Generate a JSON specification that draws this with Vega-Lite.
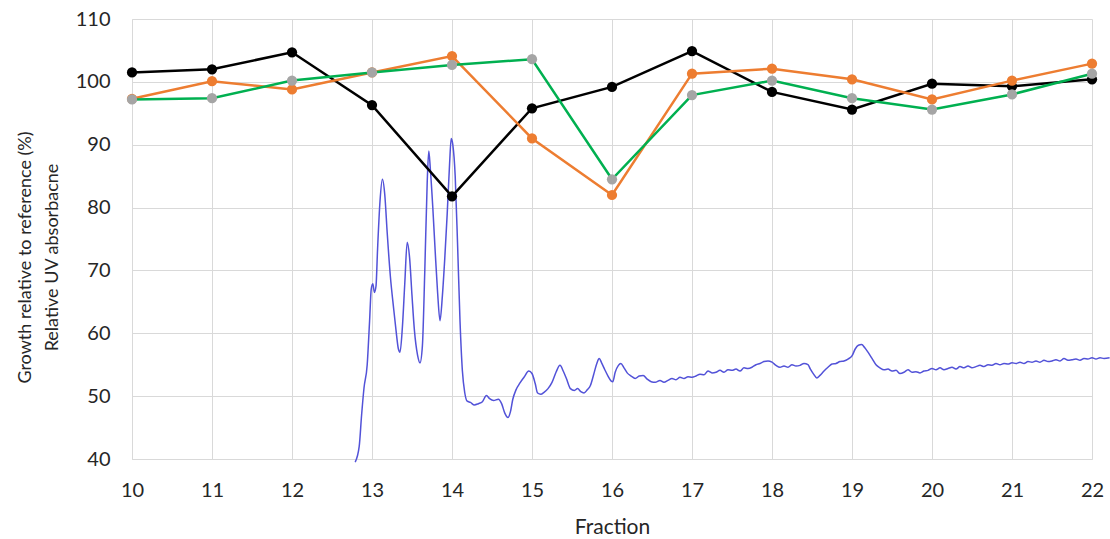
{
  "$schema": "https://vega.github.io/schema/vega-lite/v6.json",
  "width": 960,
  "height": 440,
  "autosize": {"type": "none"},
  "padding": {"left": 132, "top": 19, "right": 18, "bottom": 80},
  "background": "white",
  "config": {
    "view": {"stroke": null},
    "font": "Lato",
    "axis": {
      "gridColor": "#d9d9d9",
      "domainColor": "#d9d9d9",
      "ticks": false,
      "labelFont": "Lato",
      "labelFontSize": 20,
      "labelColor": "#262626",
      "labelFlush": false,
      "titleFont": "Lato",
      "titleFontSize": 18,
      "titleFontWeight": "normal",
      "titleColor": "#262626"
    }
  },
  "datasets": {
    "uv": [
      {"f":12.79,"a":39.5},{"f":12.84,"a":42},{"f":12.87,"a":47},{"f":12.9,"a":51.3},{"f":12.94,"a":55},{"f":12.97,"a":62},{"f":12.99,"a":67},{"f":13.01,"a":67.9},{"f":13.03,"a":66.5},{"f":13.05,"a":67.5},{"f":13.07,"a":73.5},{"f":13.1,"a":81},{"f":13.13,"a":84.5},{"f":13.16,"a":82},{"f":13.19,"a":76},{"f":13.23,"a":69},{"f":13.27,"a":64},{"f":13.3,"a":60.5},{"f":13.33,"a":57.5},{"f":13.35,"a":57},{"f":13.38,"a":61},{"f":13.41,"a":68},{"f":13.44,"a":74.5},{"f":13.47,"a":72},{"f":13.5,"a":66},{"f":13.53,"a":60.5},{"f":13.57,"a":56.5},{"f":13.6,"a":55.3},{"f":13.63,"a":58},{"f":13.66,"a":70},{"f":13.69,"a":84},{"f":13.71,"a":89},{"f":13.73,"a":86},{"f":13.76,"a":80},{"f":13.79,"a":73},{"f":13.82,"a":66.5},{"f":13.85,"a":62},{"f":13.88,"a":66},{"f":13.91,"a":72},{"f":13.94,"a":79},{"f":13.97,"a":87},{"f":13.99,"a":91},{"f":14.01,"a":90},{"f":14.04,"a":85},{"f":14.07,"a":74},{"f":14.1,"a":62},{"f":14.13,"a":54},{"f":14.16,"a":50.5},{"f":14.19,"a":49.2},{"f":14.23,"a":49},{"f":14.28,"a":48.6},{"f":14.33,"a":48.8},{"f":14.38,"a":49.1},{"f":14.43,"a":50.1},{"f":14.47,"a":49.6},{"f":14.52,"a":49.3},{"f":14.58,"a":49.5},{"f":14.62,"a":48.8},{"f":14.66,"a":47.3},{"f":14.7,"a":46.6},{"f":14.73,"a":47.5},{"f":14.76,"a":49.5},{"f":14.8,"a":51},{"f":14.85,"a":52.1},{"f":14.9,"a":53},{"f":14.96,"a":54},{"f":15.0,"a":53.6},{"f":15.04,"a":52},{"f":15.07,"a":50.5},{"f":15.11,"a":50.3},{"f":15.15,"a":50.6},{"f":15.2,"a":51.2},{"f":15.25,"a":52.2},{"f":15.3,"a":53.8},{"f":15.35,"a":54.9},{"f":15.39,"a":54},{"f":15.43,"a":52.8},{"f":15.48,"a":51.2},{"f":15.53,"a":50.9},{"f":15.57,"a":51.2},{"f":15.61,"a":50.7},{"f":15.65,"a":50.5},{"f":15.69,"a":51},{"f":15.73,"a":51.7},{"f":15.77,"a":53.4},{"f":15.81,"a":55.2},{"f":15.84,"a":56},{"f":15.87,"a":55.3},{"f":15.91,"a":54.2},{"f":15.95,"a":53.2},{"f":15.99,"a":52.4},{"f":16.01,"a":52.3},{"f":16.04,"a":53.8},{"f":16.08,"a":54.9},{"f":16.11,"a":55.2},{"f":16.15,"a":54.5},{"f":16.19,"a":53.7},{"f":16.24,"a":53.2},{"f":16.29,"a":52.8},{"f":16.34,"a":53.2},{"f":16.39,"a":53.3},{"f":16.44,"a":52.7},{"f":16.49,"a":52.3},{"f":16.54,"a":52.2},{"f":16.6,"a":52.5},{"f":16.65,"a":52.2},{"f":16.7,"a":52.5},{"f":16.75,"a":52.8},{"f":16.8,"a":52.6},{"f":16.85,"a":53},{"f":16.9,"a":52.8},{"f":16.95,"a":53.1},{"f":17.0,"a":53},{"f":17.05,"a":53.2},{"f":17.1,"a":53.5},{"f":17.15,"a":53.4},{"f":17.2,"a":54},{"f":17.25,"a":53.7},{"f":17.3,"a":53.8},{"f":17.35,"a":54.1},{"f":17.4,"a":53.8},{"f":17.45,"a":54.2},{"f":17.5,"a":54.1},{"f":17.55,"a":54.3},{"f":17.6,"a":54},{"f":17.65,"a":54.5},{"f":17.7,"a":54.4},{"f":17.75,"a":54.6},{"f":17.8,"a":55},{"f":17.85,"a":55.2},{"f":17.9,"a":55.5},{"f":17.95,"a":55.6},{"f":18.0,"a":55.4},{"f":18.05,"a":54.9},{"f":18.1,"a":54.6},{"f":18.15,"a":54.8},{"f":18.2,"a":54.6},{"f":18.25,"a":55},{"f":18.3,"a":54.8},{"f":18.35,"a":54.9},{"f":18.4,"a":55.2},{"f":18.45,"a":55},{"f":18.48,"a":54.3},{"f":18.52,"a":53.5},{"f":18.56,"a":52.9},{"f":18.6,"a":53.3},{"f":18.65,"a":54},{"f":18.7,"a":54.6},{"f":18.75,"a":55.1},{"f":18.8,"a":55.2},{"f":18.85,"a":55.5},{"f":18.9,"a":55.6},{"f":18.95,"a":55.9},{"f":19.0,"a":56.4},{"f":19.04,"a":57.5},{"f":19.08,"a":58.1},{"f":19.12,"a":58.2},{"f":19.16,"a":57.7},{"f":19.2,"a":57},{"f":19.25,"a":56},{"f":19.3,"a":55},{"f":19.35,"a":54.5},{"f":19.4,"a":54.2},{"f":19.45,"a":54.3},{"f":19.5,"a":54},{"f":19.55,"a":54.1},{"f":19.6,"a":53.6},{"f":19.65,"a":53.8},{"f":19.7,"a":54.2},{"f":19.75,"a":53.8},{"f":19.8,"a":53.9},{"f":19.85,"a":53.7},{"f":19.9,"a":54},{"f":19.95,"a":54.1},{"f":20.0,"a":54.4},{"f":20.05,"a":54.2},{"f":20.1,"a":54.5},{"f":20.15,"a":54.2},{"f":20.2,"a":54.4},{"f":20.25,"a":54.6},{"f":20.3,"a":54.3},{"f":20.35,"a":54.7},{"f":20.4,"a":54.5},{"f":20.45,"a":54.8},{"f":20.5,"a":54.5},{"f":20.55,"a":54.7},{"f":20.6,"a":54.9},{"f":20.65,"a":54.7},{"f":20.7,"a":55},{"f":20.75,"a":54.9},{"f":20.8,"a":55.2},{"f":20.85,"a":55},{"f":20.9,"a":55.2},{"f":20.95,"a":55.1},{"f":21.0,"a":55.3},{"f":21.05,"a":55.2},{"f":21.1,"a":55.4},{"f":21.15,"a":55.2},{"f":21.2,"a":55.5},{"f":21.25,"a":55.4},{"f":21.3,"a":55.6},{"f":21.35,"a":55.4},{"f":21.4,"a":55.7},{"f":21.45,"a":55.5},{"f":21.5,"a":55.6},{"f":21.55,"a":55.8},{"f":21.6,"a":55.6},{"f":21.65,"a":56},{"f":21.7,"a":55.7},{"f":21.75,"a":55.8},{"f":21.8,"a":55.9},{"f":21.85,"a":55.7},{"f":21.9,"a":56},{"f":21.95,"a":55.9},{"f":22.0,"a":56.1},{"f":22.05,"a":55.9},{"f":22.1,"a":56.1},{"f":22.15,"a":56},{"f":22.22,"a":56.1}
    ],
    "growth": [
      {"f":10,"s":"A","v":101.5},{"f":11,"s":"A","v":102.0},{"f":12,"s":"A","v":104.7},{"f":13,"s":"A","v":96.3},{"f":14,"s":"A","v":81.8},{"f":15,"s":"A","v":95.8},{"f":16,"s":"A","v":99.2},{"f":17,"s":"A","v":104.9},{"f":18,"s":"A","v":98.4},{"f":19,"s":"A","v":95.6},{"f":20,"s":"A","v":99.7},{"f":21,"s":"A","v":99.3},{"f":22,"s":"A","v":100.4},
      {"f":10,"s":"B","v":97.3},{"f":11,"s":"B","v":100.1},{"f":12,"s":"B","v":98.8},{"f":13,"s":"B","v":101.5},{"f":14,"s":"B","v":104.1},{"f":15,"s":"B","v":91.0},{"f":16,"s":"B","v":82.0},{"f":17,"s":"B","v":101.3},{"f":18,"s":"B","v":102.1},{"f":19,"s":"B","v":100.4},{"f":20,"s":"B","v":97.2},{"f":21,"s":"B","v":100.2},{"f":22,"s":"B","v":102.9},
      {"f":10,"s":"C","v":97.2},{"f":11,"s":"C","v":97.4},{"f":12,"s":"C","v":100.2},{"f":13,"s":"C","v":101.5},{"f":14,"s":"C","v":102.7},{"f":15,"s":"C","v":103.6},{"f":16,"s":"C","v":84.5},{"f":17,"s":"C","v":97.9},{"f":18,"s":"C","v":100.2},{"f":19,"s":"C","v":97.4},{"f":20,"s":"C","v":95.6},{"f":21,"s":"C","v":98.0},{"f":22,"s":"C","v":101.3}
    ]
  },
  "layer": [
    {
      "data": {"name": "uv"},
      "mark": {"type": "line", "color": "#5252d8", "strokeWidth": 1.5, "clip": false, "interpolate": "monotone"},
      "encoding": {
        "x": {"field": "f", "type": "quantitative", "scale": {"domain": [10, 22], "nice": false, "zero": false},
          "axis": {"values": [10,11,12,13,14,15,16,17,18,19,20,21,22], "format": "d", "grid": true, "labelPadding": 21, "title": "Fraction", "titleFontSize": 21, "titlePadding": 16}},
        "y": {"field": "a", "type": "quantitative", "scale": {"domain": [40, 110], "nice": false, "zero": false},
          "axis": {"values": [40,50,60,70,80,90,100,110], "grid": true, "labelPadding": 22,
            "title": ["Growth relative to reference (%)", "Relative UV absorbacne"],
            "titleAngle": -90, "titleX": -107, "titleY": 238, "titleAlign": "center", "titleBaseline": "middle", "titleLineHeight": 27}}
      }
    },
    {
      "data": {"name": "growth"},
      "mark": {"type": "line", "strokeWidth": 2.5},
      "encoding": {
        "x": {"field": "f", "type": "quantitative"},
        "y": {"field": "v", "type": "quantitative"},
        "stroke": {"field": "s", "type": "nominal", "scale": {"domain": ["A","B","C"], "range": ["#000000","#ED7D31","#00B050"]}, "legend": null}
      }
    },
    {
      "data": {"name": "growth"},
      "mark": {"type": "point", "filled": true, "size": 105, "opacity": 1},
      "encoding": {
        "x": {"field": "f", "type": "quantitative"},
        "y": {"field": "v", "type": "quantitative"},
        "fill": {"field": "s", "type": "nominal", "scale": {"domain": ["A","B","C"], "range": ["#000000","#ED7D31","#A5A5A5"]}, "legend": null}
      }
    }
  ]
}
